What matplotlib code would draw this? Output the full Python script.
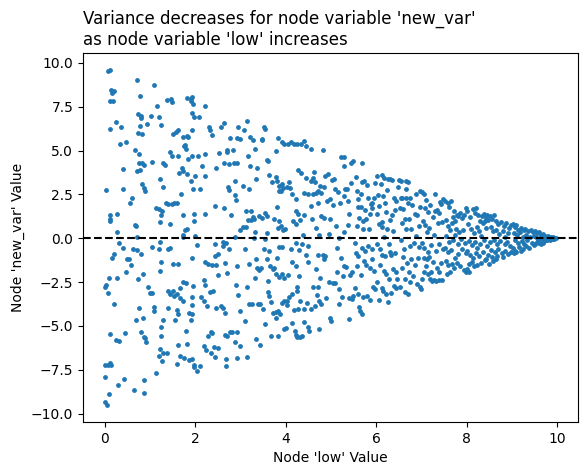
import numpy as np
import matplotlib.pyplot as plt

# (low, new_var) pairs, grouped by 'low' band
band_0 = [(0.00, -9.35), (0.06, -9.50), (0.09, -8.89), (0.00, -7.92), (0.00, -7.20), (0.07, -7.20),
          (0.12, -7.10), (0.14, -7.25), (0.29, -8.36), (0.43, -8.00), (0.11, -5.46), (0.26, -5.80),
          (0.32, -5.88), (0.44, -5.42), (0.21, -3.77), (0.07, -3.13), (0.02, -2.67), (0.00, -2.75),
          (0.10, -2.24), (0.27, -2.24), (0.16, -1.10), (0.21, -0.91), (0.32, -0.25), (0.40, -0.53),
          (0.46, -1.91), (0.27, 0.38), (0.27, 1.36), (0.12, 1.31), (0.12, 0.99), (0.11, 1.08),
          (0.02, 2.75), (0.11, 6.24), (0.24, 6.62), (0.37, 6.35), (0.33, 5.38), (0.46, 5.48),
          (0.41, 3.96), (0.41, 2.82), (0.07, 9.55), (0.12, 9.59), (0.13, 8.44), (0.17, 8.28),
          (0.20, 8.38), (0.12, 7.81), (0.18, 7.85), (0.50, -1.16)]
band_1 = [(0.66, 5.02), (0.76, 4.82), (0.76, 4.30), (0.72, 3.81), (0.79, 3.89), (0.87, 4.17),
          (0.82, 4.27), (0.82, 3.07), (0.87, 2.86), (0.90, 2.69), (0.71, 9.04), (0.78, 8.09),
          (0.74, 7.11), (0.81, 7.00), (0.80, 6.86), (0.78, 6.39), (0.73, 6.01), (0.82, 5.95),
          (0.93, 6.52), (0.61, 2.27), (0.57, 1.99), (0.66, 0.78), (0.69, 0.70), (0.72, 0.08),
          (0.63, -0.59), (0.53, -1.19), (0.59, -1.50), (0.72, -0.68), (0.81, -0.87), (0.84, -2.05),
          (0.73, -2.33), (0.76, -4.00), (0.69, -4.66), (0.84, -4.57), (0.80, -5.33), (0.86, -5.61),
          (0.89, -5.71), (0.91, -5.91), (0.87, -8.08), (0.87, -8.83), (0.64, -8.64), (0.95, -2.80),
          (1.00, -3.10),
          (1.08, 8.76), (1.03, 7.00), (1.15, 7.53), (1.21, 6.90), (1.25, 6.48), (1.04, 4.34),
          (1.29, 4.28), (1.34, 4.17), (1.22, 3.39), (1.29, 2.94), (1.14, 1.74), (1.21, 1.65),
          (1.24, 1.31), (1.27, 1.54), (1.22, 0.95), (1.35, 1.99), (1.44, 4.91), (1.49, 4.68),
          (1.38, 7.91), (1.46, 7.94), (1.49, 7.79), (1.04, -0.47), (1.22, -0.19), (1.20, -0.61),
          (1.24, -1.38), (1.22, -1.88), (1.40, -0.59), (1.44, -0.53), (1.05, -3.11), (1.10, -3.91),
          (1.10, -4.13), (1.29, -4.68), (1.25, -5.08), (1.24, -5.59), (1.22, -6.31), (1.20, -6.69),
          (1.29, -6.56), (1.37, -6.54), (1.26, -6.98), (1.14, -7.68), (1.40, -4.00), (1.41, -3.01),
          (1.45, -3.20), (1.50, -3.01), (1.54, -3.28), (1.45, 0.80), (1.40, 1.95), (1.48, 1.93)]
band_2 = [(1.51, 5.97), (1.57, 6.05), (1.62, 6.16), (1.62, 4.68), (1.54, 1.99), (1.59, 1.99),
          (1.65, 3.73), (1.70, 4.00), (1.72, 3.83), (1.68, 2.50), (1.72, 1.31), (1.73, 0.21),
          (1.78, 0.45), (1.83, 0.51), (1.81, 5.86), (1.84, 5.76), (1.72, 5.76), (1.75, 5.25),
          (1.78, 5.31), (1.79, 5.10), (1.84, 4.53), (1.82, 3.64), (1.90, 3.26), (1.95, 2.79),
          (1.93, 4.72), (1.93, 6.16), (1.92, 7.15), (1.97, 6.92), (1.82, 8.00), (1.90, 7.96),
          (1.93, 8.06), (1.91, 7.81), (1.96, 7.66), (1.52, -1.44), (1.62, -1.46), (1.73, 0.08),
          (1.73, -2.52), (1.80, -2.56), (1.66, -2.86), (1.67, -3.43), (1.60, -3.18), (1.73, -3.56),
          (1.59, -4.08), (1.63, -4.32), (1.55, -4.64), (1.86, -4.27), (1.94, -4.32), (1.91, -4.64),
          (1.94, -3.81), (1.92, -3.34), (1.95, -2.71), (1.93, -1.12), (1.97, 0.99), (1.98, 1.36),
          (1.62, -6.09), (1.67, -6.73), (1.60, -7.18), (1.75, -6.84), (1.83, -6.05), (1.86, -6.94),
          (1.92, -6.88), (1.97, -7.22), (1.98, -7.32), (1.80, -5.27),
          (2.03, -7.56), (2.10, -7.26), (2.09, 6.92), (2.22, 7.53), (2.15, 4.10), (2.22, 4.83),
          (2.22, 3.58), (2.00, 3.56), (2.21, 1.40), (2.00, 0.13), (2.31, 6.35), (2.32, 6.20),
          (2.37, 5.91), (2.44, 1.82), (2.46, 4.02), (2.22, -1.35), (2.29, -1.46), (2.37, -1.52),
          (2.45, -1.52), (2.43, -0.30), (2.43, -1.02), (2.50, -0.89), (2.51, -2.10), (2.20, -2.37),
          (2.22, -2.67), (2.12, -3.34), (2.19, -3.55), (2.26, -3.89), (2.32, -3.05), (2.40, -3.01),
          (2.45, -3.96), (2.20, -6.16), (2.23, -6.35), (2.28, -5.55), (2.34, -5.37), (2.38, -5.42),
          (2.36, -6.56), (2.42, -6.18), (2.44, -6.75), (2.50, -6.27), (2.06, 4.70), (2.10, 2.80),
          (2.05, -0.40)]
band_3 = [(2.57, 6.35), (2.64, 6.58), (2.53, 4.87), (2.70, 4.95), (2.63, 4.27), (2.71, 5.04),
          (2.74, 4.21), (2.73, 2.92), (2.74, 2.75), (2.64, 1.73), (2.86, 4.28), (2.92, 4.30),
          (2.93, 5.73), (2.95, 6.33), (2.98, 5.69), (2.88, 3.24), (2.88, 2.45), (2.90, 2.16),
          (2.84, 5.04), (2.62, -0.23), (2.69, -0.25), (2.75, -0.63), (2.61, -0.44), (2.66, -1.40),
          (2.71, -1.99), (2.88, 0.06), (2.92, -1.57), (2.90, -2.64), (2.95, -3.26), (3.00, -4.13),
          (2.57, -3.89), (2.62, -4.00), (2.65, -4.28), (2.67, -5.52), (2.71, -5.57), (2.68, -6.88),
          (2.68, -7.26), (2.76, -5.37), (2.82, -5.37), (2.87, -5.90), (2.93, -5.37), (2.92, -6.84),
          (2.98, -6.12), (2.78, 5.70), (2.80, 1.30),
          (3.14, 6.71), (3.07, 6.20), (3.22, 5.76), (3.27, 5.59), (3.33, 5.12), (3.16, 4.68),
          (3.21, 4.15), (3.37, 4.02), (3.20, 2.82), (3.13, 1.54), (3.23, 1.54), (3.28, 1.23),
          (3.29, 1.08), (3.23, 1.02), (3.17, 1.04), (3.12, 0.64), (3.05, 0.63), (2.99, 0.45),
          (3.32, 0.38), (3.40, 1.27), (3.48, 1.18), (3.30, 0.04), (3.47, 5.59), (3.10, -0.59),
          (3.20, -1.44), (3.36, -1.69), (3.41, -1.80), (3.45, -1.67), (3.33, -2.29), (3.15, -2.75),
          (3.19, -3.77), (3.25, -3.72), (3.38, -3.77), (3.44, -3.72), (3.49, -4.04), (3.11, -4.70),
          (3.34, -5.74), (3.43, -6.09), (3.15, -6.79), (3.34, -1.19), (3.05, 3.00), (3.35, 3.40)]
band_4 = [(3.52, 6.33), (3.54, 6.24), (3.48, 5.67), (3.58, 4.49), (3.61, 4.42), (3.63, 3.62),
          (3.78, 4.97), (3.82, 5.74), (3.91, 5.52), (3.96, 5.40), (3.78, 3.49), (3.80, 3.26),
          (3.86, 2.98), (3.89, 2.69), (3.91, 3.07), (3.85, 2.67), (3.94, 2.88), (3.54, 1.46),
          (3.59, 1.29), (3.80, 1.78), (3.75, 1.12), (3.85, 0.97), (3.84, 0.57), (3.89, 0.70),
          (3.95, 0.49), (3.99, 0.55), (3.58, 0.32), (3.54, -0.06), (3.53, -0.59), (3.63, -0.72),
          (3.58, -1.19), (3.65, -1.57), (3.73, -1.73), (3.81, -1.10), (3.86, -0.47), (3.92, -0.47),
          (3.78, -2.03), (3.85, -2.20), (3.91, -2.05), (3.96, -2.26), (3.74, -1.71), (3.60, -2.45),
          (3.62, -3.05), (3.64, -3.28), (3.67, -3.66), (3.73, -4.28), (3.79, -4.23), (3.83, -4.15),
          (3.87, -4.32), (3.93, -3.70), (3.97, -3.56), (3.54, -4.89), (3.67, -5.55), (3.82, -5.55),
          (3.78, -4.57), (3.97, -5.18), (3.70, 3.20),
          (4.06, 5.40), (4.12, 5.48), (4.19, 5.35), (4.25, 5.38), (4.34, 5.38), (4.41, 5.57),
          (4.45, 5.25), (4.07, 3.20), (4.15, 2.52), (4.22, 2.22), (4.27, 3.91), (4.34, 3.70),
          (4.44, 3.43), (4.40, 2.60), (4.49, 2.54), (4.22, 1.55), (4.16, 0.99), (4.22, 0.80),
          (4.28, 1.36), (4.31, 1.04), (4.41, 1.31), (4.22, -0.28), (4.36, -0.34), (4.12, -0.63),
          (4.29, -0.66), (4.49, -0.44), (4.14, -1.38), (4.22, -1.57), (4.49, -1.38), (4.26, -2.79),
          (4.24, -3.01), (4.13, -3.17), (4.08, -3.37), (4.02, -3.56), (4.04, -3.81), (4.27, -4.04),
          (4.47, -3.70), (4.01, -5.12), (4.14, -4.85), (4.21, -5.27), (4.23, -5.52), (4.25, -5.65),
          (4.31, -5.61), (4.36, -5.55), (4.41, -4.76), (4.49, -5.08), (4.51, -5.27), (4.03, 2.95),
          (4.10, 2.85), (4.38, 0.20), (4.46, -0.98), (4.32, -3.55), (4.40, -4.02), (4.18, -4.10),
          (4.05, -2.10), (4.30, -2.15)]
band_5 = [(4.56, 5.10), (4.82, 5.04), (4.61, 3.45), (4.57, 3.26), (4.64, 3.20), (4.66, 2.60),
          (4.72, 2.69), (4.78, 2.60), (4.77, 2.98), (4.84, 2.92), (4.88, 3.54), (4.93, 3.64),
          (4.92, 2.12), (4.97, 2.26), (4.72, 2.03), (4.62, 3.79), (4.79, 1.27), (4.85, 1.14),
          (4.97, 1.08), (4.55, 1.84), (4.59, 1.12), (4.73, 0.17), (4.95, 0.23), (4.71, -0.97),
          (4.82, -0.97), (4.84, -1.19), (4.68, -1.73), (4.76, -2.24), (4.72, -2.75), (4.69, -3.24),
          (4.74, -3.56), (4.78, -3.75), (4.65, -3.85), (4.56, -4.04), (4.73, -5.18), (4.95, -2.52),
          (4.98, -4.57), (5.00, -4.72), (4.60, -2.80), (4.88, -1.00), (4.90, -3.40), (4.66, 0.60),
          (4.60, 2.50),
          (5.07, 3.36), (5.10, 2.79), (5.16, 2.65), (5.23, 4.61), (5.28, 4.64), (5.30, 4.15),
          (5.31, 2.79), (5.29, 2.41), (5.20, 2.03), (5.37, 2.12), (5.44, 3.15), (5.12, 0.70),
          (5.29, 0.38), (5.18, 0.04), (5.14, -0.53), (5.29, -1.57), (5.43, -2.10), (5.04, -2.54),
          (5.10, -2.54), (5.19, -2.92), (5.24, -3.37), (5.18, -3.75), (5.49, -3.30), (5.41, -4.63),
          (5.49, 4.40), (5.45, 4.30), (5.02, 3.30), (5.35, 2.80), (5.38, 0.75), (5.22, -1.10),
          (5.33, -1.65), (5.46, -1.95), (5.26, -2.15), (5.39, -3.40), (5.47, -3.45), (5.13, -1.90),
          (5.05, 1.90), (5.40, 1.40)]
band_6 = [(5.57, 2.67), (5.61, 2.22), (5.59, 1.80), (5.68, 3.22), (5.73, 3.26), (5.80, 3.03),
          (5.82, 2.27), (5.88, 1.93), (5.92, 2.03), (5.95, 2.27), (5.98, 3.17), (5.69, 4.30),
          (5.66, 1.80), (5.63, 1.18), (5.70, 0.99), (5.71, 0.51), (5.87, 1.36), (5.54, -0.25),
          (5.56, -0.82), (5.61, -1.00), (5.68, -0.53), (5.57, -1.57), (5.66, -2.10), (5.53, -2.86),
          (5.70, -3.37), (5.63, -3.94), (5.65, -4.13), (5.68, -4.32), (5.86, -3.53), (5.93, -2.75),
          (5.97, -2.90), (5.75, 1.60), (5.78, 1.10), (5.85, 0.55), (5.90, 1.70), (5.76, -0.70),
          (5.83, -0.45), (5.92, -0.60), (5.78, -1.55), (5.86, -1.68), (5.95, -1.85), (5.74, -1.30),
          (5.60, -3.20), (5.80, -3.30), (5.90, -1.20), (5.55, 3.50), (5.66, 2.50), (5.58, 0.70),
          (6.02, 3.58), (6.12, 3.60), (6.17, 3.43), (6.26, 3.36), (6.30, 3.41), (6.05, 2.48),
          (6.07, 1.84), (6.22, 1.50), (6.07, 0.80), (6.13, 0.63), (6.23, 0.51), (6.30, 1.02),
          (6.38, 0.42), (6.09, -1.52), (6.02, -2.52), (6.07, -3.53), (6.26, -3.62), (6.10, 3.10),
          (6.15, 2.40), (6.20, 2.00), (6.35, 1.30), (6.42, 1.60), (6.45, 2.10), (6.48, 2.90),
          (6.40, 2.30), (6.12, 0.95), (6.18, 0.05), (6.28, -0.35), (6.03, -0.30), (6.08, -0.60),
          (6.14, -0.95), (6.20, -1.00), (6.30, -0.80), (6.34, -0.95), (6.42, -0.85), (6.18, -1.85),
          (6.22, -2.05), (6.28, -2.35), (6.38, -1.75), (6.44, -1.95), (6.46, -2.30), (6.12, -2.85),
          (6.16, -3.00), (6.22, -3.20), (6.32, -3.10), (6.40, -2.70), (6.45, -2.85), (6.02, 1.40),
          (6.25, 2.75), (6.36, 3.35)]
band_7 = [(6.51, 3.30), (6.56, 3.26), (6.67, 3.26), (6.71, 3.20), (6.65, 2.82), (6.55, 2.27),
          (6.53, 1.74), (6.60, 1.65), (6.67, 2.27), (6.74, 2.27), (6.63, 1.08), (6.78, 0.51),
          (6.62, -0.59), (6.52, -2.75), (6.63, -3.09), (6.70, -3.18), (6.58, 2.30), (6.70, 2.00),
          (6.80, 1.90), (6.85, 1.40), (6.90, 1.30), (6.95, 0.70), (6.72, 1.10), (6.58, 0.90),
          (6.66, 0.55), (6.88, 0.15), (6.56, -0.10), (6.75, -0.45), (6.84, -0.25), (6.94, -0.50),
          (6.60, -1.05), (6.68, -1.40), (6.78, -1.20), (6.86, -1.50), (6.92, -1.10), (6.57, -1.70),
          (6.72, -1.95), (6.82, -2.15), (6.90, -2.60), (6.96, -2.80), (6.99, -2.90), (6.76, -2.50),
          (6.64, -2.30), (6.98, 1.80), (6.96, 2.70), (6.88, 2.50),
          (7.02, 2.65), (7.05, 2.50), (7.10, 2.20), (7.08, 1.75), (7.14, 1.50), (7.20, 1.90),
          (7.25, 1.20), (7.30, 1.55), (7.35, 1.60), (7.40, 1.45), (7.44, 1.95), (7.48, 2.25),
          (7.42, 2.05), (7.04, 1.00), (7.08, 0.75), (7.12, 0.35), (7.18, 0.60), (7.28, 0.20),
          (7.36, 0.85), (7.46, 0.95), (7.02, -0.25), (7.06, -0.55), (7.15, -0.80), (7.22, -0.40),
          (7.32, -0.70), (7.40, -0.30), (7.48, -0.60), (7.05, -1.15), (7.12, -1.20), (7.18, -1.05),
          (7.26, -1.35), (7.34, -1.70), (7.38, -1.90), (7.44, -1.40), (7.10, -1.60), (7.15, -2.05),
          (7.20, -2.35), (7.24, -2.45), (7.28, -2.40), (7.32, -2.45), (7.38, -2.40), (7.45, -2.40),
          (7.22, -1.95), (7.02, -2.30), (7.06, -1.90), (7.30, 2.50)]
band_8 = [(7.52, 2.15), (7.58, 2.00), (7.62, 1.80), (7.66, 2.10), (7.70, 1.20), (7.72, 1.55),
          (7.75, 1.00), (7.78, 1.30), (7.82, 1.25), (7.86, 1.45), (7.90, 1.15), (7.94, 1.30),
          (7.98, 1.70), (7.55, 1.05), (7.60, 0.70), (7.64, 0.45), (7.68, 0.85), (7.76, 0.55),
          (7.84, 0.35), (7.92, 0.50), (7.55, 0.15), (7.62, -0.20), (7.70, -0.10), (7.80, -0.35),
          (7.88, -0.05), (7.96, -0.25), (7.52, -0.55), (7.58, -0.80), (7.66, -0.65), (7.74, -1.10),
          (7.82, -0.90), (7.90, -0.60), (7.98, -0.85), (7.54, -1.30), (7.60, -1.55), (7.68, -1.45),
          (7.72, -1.70), (7.78, -1.40), (7.86, -1.60), (7.94, -1.80), (7.99, -1.95), (7.64, -1.95),
          (7.56, -2.05), (7.74, 0.20),
          (8.02, 1.55), (8.08, 1.20), (8.14, 1.69), (8.18, 1.45), (8.20, 1.74), (8.26, 1.30),
          (8.30, 1.00), (8.34, 1.25), (8.38, 1.40), (8.42, 1.15), (8.46, 1.30), (8.48, 1.05),
          (8.40, 1.00), (8.36, 0.90), (8.04, 0.80), (8.10, 0.55), (8.16, 0.30), (8.22, 0.65),
          (8.28, 0.40), (8.32, 0.15), (8.44, 0.60), (8.06, -0.15), (8.12, -0.40), (8.18, -0.20),
          (8.24, -0.55), (8.30, -0.35), (8.38, -0.10), (8.46, -0.45), (8.02, -0.70), (8.08, -0.95),
          (8.14, -1.10), (8.20, -0.85), (8.28, -1.00), (8.36, -0.80), (8.42, -1.20), (8.48, -0.95),
          (8.05, -1.45), (8.12, -1.35), (8.16, -1.60), (8.22, -1.55), (8.32, -1.40), (8.40, -1.25),
          (8.01, -1.75), (8.06, -1.90)]
band_9 = [(8.52, 1.25), (8.56, 1.10), (8.60, 1.30), (8.64, 1.00), (8.70, 0.80), (8.76, 0.95),
          (8.82, 0.70), (8.88, 0.85), (8.94, 0.60), (8.98, 0.75), (8.54, 0.65), (8.58, 0.40),
          (8.66, 0.50), (8.72, 0.25), (8.80, 0.40), (8.86, 0.10), (8.92, 0.30), (8.52, -0.20),
          (8.60, -0.10), (8.68, -0.35), (8.74, -0.15), (8.84, -0.30), (8.90, -0.20), (8.96, -0.45),
          (8.54, -0.65), (8.62, -0.80), (8.70, -0.60), (8.78, -0.85), (8.86, -0.70), (8.92, -0.90),
          (8.98, -0.80), (8.56, -1.05), (8.64, -1.20), (8.58, -1.30), (8.50, -1.45), (8.68, -1.00),
          (8.80, -1.05),
          (9.02, 0.80), (9.06, 0.65), (9.10, 0.75), (9.14, 0.50), (9.20, 0.60), (9.26, 0.45),
          (9.30, 0.55), (9.36, 0.40), (9.42, 0.50), (9.46, 0.35), (9.04, 0.30), (9.12, 0.20),
          (9.18, 0.35), (9.24, 0.10), (9.32, 0.20), (9.40, 0.05), (9.48, 0.15), (9.06, -0.10),
          (9.14, -0.25), (9.22, -0.15), (9.28, -0.35), (9.34, -0.10), (9.44, -0.25), (9.02, -0.55),
          (9.08, -0.70), (9.16, -0.50), (9.24, -0.60), (9.32, -0.45), (9.38, -0.55), (9.04, -0.85),
          (9.10, -0.80), (9.20, -0.75), (9.48, -0.40),
          (9.52, 0.40), (9.56, 0.30), (9.60, 0.35), (9.64, 0.20), (9.70, 0.25), (9.74, 0.15),
          (9.80, 0.12), (9.86, 0.08), (9.92, 0.05), (9.96, 0.02), (9.54, 0.05), (9.58, -0.10),
          (9.62, 0.00), (9.66, -0.05), (9.72, 0.05), (9.76, -0.08), (9.82, 0.00), (9.88, -0.04),
          (9.94, -0.02), (9.52, -0.30), (9.56, -0.20), (9.60, -0.25), (9.64, -0.30), (9.68, -0.20),
          (9.72, -0.15), (9.78, -0.12), (9.84, -0.10), (9.90, -0.06), (9.98, 0.00), (9.66, 0.10),
          (9.70, -0.28)]

pts = np.array(band_0 + band_1 + band_2 + band_3 + band_4 + band_5
               + band_6 + band_7 + band_8 + band_9)
low = pts[:, 0]
new_var = pts[:, 1]

fig = plt.figure(figsize=(5.87, 4.76), dpi=100)
ax = fig.add_axes([0.1414, 0.1134, 0.8438, 0.7753])

ax.scatter(low, new_var, s=6, color='#1f77b4')
ax.axhline(0, color='black', linestyle='--', linewidth=1.5)

ax.set_xlim(-0.48, 10.47)
ax.set_ylim(-10.48, 10.57)
ax.set_xticks([0, 2, 4, 6, 8, 10])
ax.set_yticks([-10, -7.5, -5, -2.5, 0, 2.5, 5, 7.5, 10])
ax.set_xlabel("Node 'low' Value")
ax.set_ylabel("Node 'new_var' Value")
ax.set_title("Variance decreases for node variable 'new_var'\n"
             "as node variable 'low' increases", loc='left')

fig.savefig('out.png', dpi=100)
